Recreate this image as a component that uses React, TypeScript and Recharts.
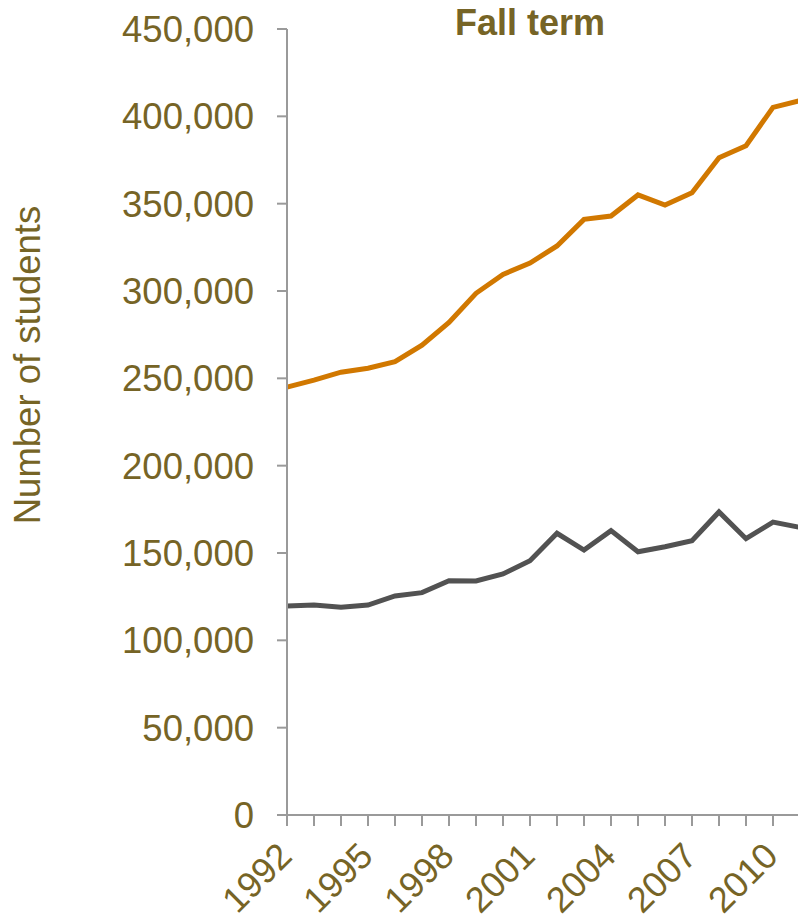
import React from "react";
import { LineChart, Line, XAxis, YAxis } from "recharts";

const years = [
  1992, 1993, 1994, 1995, 1996, 1997, 1998, 1999, 2000, 2001,
  2002, 2003, 2004, 2005, 2006, 2007, 2008, 2009, 2010, 2011,
];
const upperSeries = [
  245000, 249000, 253500, 255800, 259500, 269000, 282000, 298700, 309500, 316000,
  325800, 341000, 342900, 355000, 349200, 356300, 376300, 383200, 405100, 409000,
];
const lowerSeries = [
  119700, 120200, 118900, 120200, 125400, 127300, 134100, 134000, 138000, 145600,
  161300, 151700, 162800, 150700, 153600, 157000, 173500, 158200, 167700, 164700,
];
const yTicks = [0, 50000, 100000, 150000, 200000, 250000, 300000, 350000, 400000, 450000];

const data = years.map((y, i) => ({ year: y, upper: upperSeries[i], lower: lowerSeries[i] }));

const textColor = "#766426";
const axisColor = "#9a9a9a";
const font = "'Liberation Sans', Arial, sans-serif";

// only every third year gets a label, but every year keeps its tick mark
const YearTick = (props: any) => {
  const { x, y, payload } = props;
  if ((payload.value - 1992) % 3 !== 0) return null;
  const px = x + 7;
  const py = y + 32;
  return (
    <text
      x={px}
      y={py}
      transform={`rotate(-45, ${px}, ${py})`}
      textAnchor="end"
      fill={textColor}
      fontSize={36}
      fontFamily={font}
    >
      {payload.value}
    </text>
  );
};

export default function App() {
  return (
    <div style={{ position: "fixed", left: 0, top: 0, width: 798, height: 921, overflow: "hidden", background: "#fff" }}>
      <div
        style={{
          position: "absolute",
          left: 530,
          top: 5,
          transform: "translateX(-50%)",
          fontFamily: font,
          fontWeight: "bold",
          fontSize: 36,
          lineHeight: "36px",
          color: textColor,
          whiteSpace: "nowrap",
        }}
      >
        Fall term
      </div>
      <div
        style={{
          position: "absolute",
          left: 28,
          top: 365,
          transform: "translate(-50%, -50%) rotate(-90deg)",
          fontFamily: font,
          fontSize: 36.5,
          lineHeight: "36px",
          color: textColor,
          whiteSpace: "nowrap",
        }}
      >
        Number of students
      </div>
      <LineChart width={812} height={921} data={data} margin={{ top: 29, right: 12, left: 0, bottom: 0 }}>
        <XAxis
          dataKey="year"
          scale="point"
          padding={{ left: 0, right: 0 }}
          interval={0}
          height={106}
          tickSize={11}
          tickMargin={0}
          tick={<YearTick />}
          stroke={axisColor}
          strokeWidth={2}
        />
        <YAxis
          domain={[0, 450000]}
          ticks={yTicks}
          width={287}
          tickSize={10}
          tickMargin={23}
          stroke={axisColor}
          strokeWidth={2}
          tick={{ fill: textColor, fontSize: 36.5, fontFamily: font }}
          tickFormatter={(v: number) => v.toLocaleString("en-US")}
          interval={0}
        />
        <Line dataKey="upper" stroke="#d17800" strokeWidth={5} dot={false} isAnimationActive={false} />
        <Line dataKey="lower" stroke="#525252" strokeWidth={5} dot={false} isAnimationActive={false} />
      </LineChart>
    </div>
  );
}
